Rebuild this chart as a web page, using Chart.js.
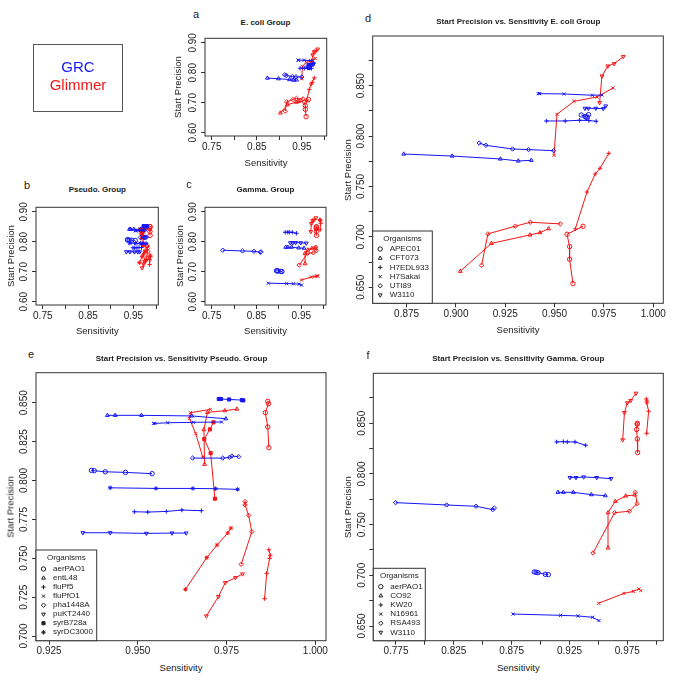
<!DOCTYPE html>
<html>
<head>
<meta charset="utf-8">
<script src="https://cdn.jsdelivr.net/npm/chart.js@4.4.1/dist/chart.umd.min.js"></script>
<style>
  body { margin: 0; background: #fff; width: 685px; height: 685px; position: relative; overflow: hidden;
         font-family: 'Liberation Sans', Arial, sans-serif; color: #222; }
  canvas { position: absolute; }
  .t { position: absolute; white-space: nowrap; transform: translate(-50%, -50%); font-size: 9.5px; }
  .r { transform: translate(-50%, -50%) rotate(-90deg); }
  .main { font-weight: bold; font-size: 8px; }
  .let { font-size: 11px; }
  #keybox { position: absolute; left: 33px; top: 44px; width: 88px; height: 66px; border: 1px solid #555; }
</style>
</head>
<body>
<div id="keybox"></div>
<canvas id="ca"></canvas>
<canvas id="cb"></canvas>
<canvas id="cc"></canvas>
<canvas id="cd"></canvas>
<canvas id="ce"></canvas>
<canvas id="cf"></canvas>
<script>
'use strict';

// ---- E. coli group ----
const ecoliNames = ['APEC01', 'CFT073', 'H7EDL933', 'H7Sakai', 'UTI89', 'W3110'];
const ecoliGrcSens = [
  [0.9635, 0.9655, 0.9660, 0.9666, 0.9672],
  [0.8735, 0.8981, 0.9225, 0.9316, 0.9382],
  [0.9458, 0.9554, 0.9627, 0.9674, 0.9711],
  [0.9417, 0.9424, 0.9547, 0.9691, 0.9740],
  [0.9118, 0.9152, 0.9287, 0.9368, 0.9495],
  [0.9654, 0.9671, 0.9709, 0.9747, 0.9759]
];
const ecoliGrcPrec = [
  [0.8209, 0.8193, 0.8187, 0.8187, 0.8213],
  [0.7822, 0.7802, 0.7773, 0.7753, 0.7760],
  [0.8150, 0.8150, 0.8157, 0.8154, 0.8147],
  [0.8421, 0.8421, 0.8418, 0.8405, 0.8408],
  [0.7931, 0.7908, 0.7872, 0.7866, 0.7855],
  [0.8275, 0.8275, 0.8275, 0.8272, 0.8298]
];
const ecoliGlimSens = [
  [0.9644, 0.9563, 0.9576, 0.9576, 0.9593],
  [0.9022, 0.9180, 0.9375, 0.9426, 0.9470],
  [0.9605, 0.9664, 0.9706, 0.9730, 0.9775],
  [0.9497, 0.9512, 0.9598, 0.9715, 0.9796],
  [0.9130, 0.9162, 0.9301, 0.9377, 0.9529],
  [0.9728, 0.9740, 0.9770, 0.9802, 0.9848]
];
const ecoliGlimPrec = [
  [0.7105, 0.7026, 0.6904, 0.6778, 0.6536],
  [0.6659, 0.6936, 0.7019, 0.7042, 0.7081],
  [0.7079, 0.7445, 0.7624, 0.7680, 0.7829],
  [0.7809, 0.8216, 0.8345, 0.8388, 0.8477],
  [0.6719, 0.7030, 0.7106, 0.7145, 0.7129],
  [0.8331, 0.8596, 0.8695, 0.8718, 0.8788]
];

// ---- Pseudo. group ----
const pseudoNames = ['aerPAO1', 'entL48', 'fluPf5', 'fluPfO1', 'pha1448A', 'puKT2440', 'syrB728a', 'syrDC3000'];
const pseudoGrcSens = [
  [0.9369, 0.9377, 0.9408, 0.9465, 0.9540],
  [0.9414, 0.9436, 0.9510, 0.9652, 0.9748],
  [0.9490, 0.9528, 0.9580, 0.9624, 0.9679],
  [0.9544, 0.9548, 0.9584, 0.9656, 0.9736],
  [0.9654, 0.9739, 0.9758, 0.9765, 0.9784],
  [0.9345, 0.9422, 0.9524, 0.9596, 0.9636],
  [0.9728, 0.9734, 0.9757, 0.9793, 0.9797],
  [0.9422, 0.9551, 0.9655, 0.9719, 0.9781]
];
const pseudoGrcPrec = [
  [0.8065, 0.8063, 0.8056, 0.8052, 0.8044],
  [0.8419, 0.8419, 0.8419, 0.8415, 0.8397],
  [0.7799, 0.7797, 0.7801, 0.7810, 0.7806],
  [0.8367, 0.8367, 0.8371, 0.8374, 0.8376],
  [0.8144, 0.8144, 0.8148, 0.8157, 0.8153],
  [0.7664, 0.7664, 0.7660, 0.7662, 0.7662],
  [0.8524, 0.8524, 0.8521, 0.8517, 0.8515],
  [0.7953, 0.7949, 0.7949, 0.7947, 0.7943]
];
const pseudoGlimSens = [
  [0.9866, 0.9868, 0.9859, 0.9866, 0.9869],
  [0.9779, 0.9745, 0.9696, 0.9686, 0.9688],
  [0.9869, 0.9873, 0.9871, 0.9863, 0.9857],
  [0.9683, 0.9663, 0.9645, 0.9648, 0.9704],
  [0.9802, 0.9802, 0.9812, 0.9821, 0.9791],
  [0.9693, 0.9727, 0.9746, 0.9775, 0.9795],
  [0.9713, 0.9703, 0.9687, 0.9705, 0.9717],
  [0.9634, 0.9694, 0.9723, 0.9753, 0.9762]
];
const pseudoGlimPrec = [
  [0.8509, 0.8494, 0.8436, 0.8344, 0.8211],
  [0.8459, 0.8449, 0.8438, 0.8327, 0.8104],
  [0.7555, 0.7519, 0.7499, 0.7403, 0.7240],
  [0.8149, 0.8301, 0.8399, 0.8436, 0.8457],
  [0.7864, 0.7843, 0.7776, 0.7671, 0.7461],
  [0.7129, 0.7253, 0.7343, 0.7375, 0.7399],
  [0.8374, 0.8329, 0.8266, 0.8176, 0.7883],
  [0.7300, 0.7504, 0.7585, 0.7662, 0.7694]
];

// ---- Gamma. group ----
const gammaNames = ['aerPAO1', 'CO92', 'KW20', 'N16961', 'RSA493', 'W3110'];
const gammaGrcSens = [
  [0.8946, 0.8961, 0.8978, 0.9041, 0.9067],
  [0.9150, 0.9197, 0.9283, 0.9439, 0.9560],
  [0.9139, 0.9197, 0.9231, 0.9298, 0.9390],
  [0.8762, 0.9174, 0.9323, 0.9450, 0.9505],
  [0.7747, 0.8188, 0.8442, 0.8586, 0.8600],
  [0.9254, 0.9306, 0.9372, 0.9485, 0.9609]
];
const gammaGrcPrec = [
  [0.7033, 0.7030, 0.7026, 0.7010, 0.7007],
  [0.7819, 0.7819, 0.7819, 0.7796, 0.7786],
  [0.8316, 0.8319, 0.8316, 0.8316, 0.8283],
  [0.6618, 0.6605, 0.6599, 0.6586, 0.6553],
  [0.7717, 0.7694, 0.7681, 0.7648, 0.7664],
  [0.7964, 0.7964, 0.7970, 0.7964, 0.7954]
];
const gammaGlimSens = [
  [0.9836, 0.9836, 0.9830, 0.9836, 0.9839],
  [0.9583, 0.9583, 0.9646, 0.9736, 0.9813],
  [0.9917, 0.9934, 0.9919, 0.9919, 0.9914],
  [0.9502, 0.9721, 0.9802, 0.9851, 0.9866],
  [0.9453, 0.9640, 0.9767, 0.9834, 0.9819],
  [0.9710, 0.9725, 0.9750, 0.9779, 0.9825]
];
const gammaGlimPrec = [
  [0.8500, 0.8490, 0.8438, 0.8345, 0.8211],
  [0.7270, 0.7618, 0.7730, 0.7783, 0.7793],
  [0.8401, 0.8618, 0.8701, 0.8720, 0.8740],
  [0.6724, 0.6822, 0.6842, 0.6865, 0.6849],
  [0.7220, 0.7618, 0.7632, 0.7707, 0.7819],
  [0.8336, 0.8605, 0.8701, 0.8724, 0.8796]
];

// ---- ticks ----
const smallXTicks = [0.75, 0.80, 0.85, 0.90, 0.95, 1.00];
const smallXLabels = ['0.75', '0.85', '0.95'];
const smallYTicks = [0.60, 0.70, 0.80, 0.90];
const smallYLabels = ['0.60', '0.70', '0.80', '0.90'];
const ecoliXTicks = [0.875, 0.900, 0.925, 0.950, 0.975, 1.000];
const ecoliXLabels = ['0.875', '0.900', '0.925', '0.950', '0.975', '1.000'];
const ecoliYTicks = [0.650, 0.675, 0.700, 0.725, 0.750, 0.775, 0.800, 0.825, 0.850, 0.875];
const ecoliYLabels = ['0.650', '0.700', '0.750', '0.800', '0.850'];
const pseudoXTicks = [0.925, 0.950, 0.975, 1.000];
const pseudoXLabels = ['0.925', '0.950', '0.975', '1.000'];
const pseudoYTicks = [0.700, 0.725, 0.750, 0.775, 0.800, 0.825, 0.850];
const pseudoYLabels = ['0.700', '0.725', '0.750', '0.775', '0.800', '0.825', '0.850'];
const gammaXTicks = [0.775, 0.800, 0.825, 0.850, 0.875, 0.900, 0.925, 0.950, 0.975, 1.000];
const gammaXLabels = ['0.775', '0.825', '0.875', '0.925', '0.975'];
const gammaYTicks = [0.650, 0.675, 0.700, 0.725, 0.750, 0.775, 0.800, 0.825, 0.850, 0.875];
const gammaYLabels = ['0.650', '0.700', '0.750', '0.800', '0.850'];

// R pch symbols per organism
const ecoliPch = ['circle', 'triangle', 'cross', 'crossRot', 'rectRot', 'down'];
const pseudoPch = ['circle', 'triangle', 'cross', 'crossRot', 'rectRot', 'down', 'square', 'star'];
const gammaPch = ['circle', 'triangle', 'cross', 'crossRot', 'rectRot', 'down'];

const BLUE = '#1515f5';
const RED = '#f51515';
const FONT = "'Liberation Sans', Arial, sans-serif";
Chart.defaults.font.family = FONT;
Chart.defaults.color = '#222';

function pointOpts(pch, color) {
  if (pch === 'down') return { pointStyle: 'triangle', pointRotation: 180, pointBackgroundColor: 'rgba(0,0,0,0)' };
  if (pch === 'square') return { pointStyle: 'rect', pointRotation: 0, pointBackgroundColor: color };
  return { pointStyle: pch, pointRotation: 0, pointBackgroundColor: 'rgba(0,0,0,0)' };
}

function buildSets(names, pch, sx, sy, color) {
  return names.map((n, i) => Object.assign({
    label: n,
    data: sx[i].map((v, j) => ({ x: v, y: sy[i][j] })),
    showLine: true,
    borderColor: color,
    borderWidth: 1,
    pointBorderColor: color,
    pointBorderWidth: 1,
    pointRadius: 2.2,
    tension: 0
  }, pointOpts(pch[i], color)));
}

const rBox = {
  id: 'rBox',
  afterDatasetsDraw(chart, args, opts) {
    const ctx = chart.ctx;
    const a = chart.chartArea;
    ctx.save();
    ctx.strokeStyle = '#333';
    ctx.lineWidth = 1;
    ctx.strokeRect(a.left, a.top, a.right - a.left, a.bottom - a.top);
    const L = opts.legend;
    if (L) {
      const top = a.bottom - L.h;
      ctx.fillStyle = '#fff';
      ctx.fillRect(a.left, top, L.w, L.h);
      ctx.strokeRect(a.left, top, L.w, L.h);
      ctx.fillStyle = '#222';
      ctx.font = '8px ' + FONT;
      ctx.textBaseline = 'middle';
      ctx.textAlign = 'center';
      ctx.fillText('Organisms', a.left + L.w / 2, top + L.titleY);
      ctx.textAlign = 'left';
      L.names.forEach((n, i) => {
        const y = top + L.rowY + i * L.rowH;
        const p = pointOpts(L.pch[i], '#222');
        ctx.fillStyle = p.pointBackgroundColor;
        ctx.strokeStyle = '#222';
        Chart.helpers.drawPoint(ctx, { pointStyle: p.pointStyle, rotation: p.pointRotation, radius: 2.2, borderWidth: 1 }, a.left + 7.5, y);
        ctx.fillStyle = '#222';
        ctx.fillText(n, a.left + 17, y);
      });
    }
    ctx.restore();
  }
};

function measure(labels, size) {
  const c = document.createElement('canvas').getContext('2d');
  c.font = size + 'px ' + FONT;
  return Math.max(...labels.map(s => c.measureText(s).width));
}

// cb = canvas [left, top, w, h]; pa = plot area [left, top, right, bottom] in page px
function makeChart(id, cb, pa, xr, yr, xt, xl, yt, yl, datasets, legend) {
  const cv = document.getElementById(id);
  cv.style.left = cb[0] + 'px';
  cv.style.top = cb[1] + 'px';
  cv.width = cb[2];
  cv.height = cb[3];
  const yW = pa[0] - cb[0];
  const xH = cb[1] + cb[3] - pa[3];
  const tl = 4;
  const yPad = 11.5 - tl - measure(yl, 10) / 2;
  const grid = { display: true, drawOnChartArea: false, drawTicks: true, tickLength: tl, color: '#333', lineWidth: 1 };
  const fmt = (labels, dec) => v => { const s = Number(v).toFixed(dec); return labels.includes(s) ? s : ''; };
  const xDec = xl[0].split('.')[1].length;
  const yDec = yl[0].split('.')[1].length;
  return new Chart(cv, {
    type: 'scatter',
    data: { datasets: datasets },
    options: {
      responsive: false,
      animation: false,
      layout: { padding: { left: 0, bottom: 0, top: pa[1] - cb[1], right: cb[0] + cb[2] - pa[2] } },
      plugins: { legend: { display: false }, tooltip: { enabled: false }, rBox: { legend: legend } },
      scales: {
        x: {
          type: 'linear', min: xr[0], max: xr[1],
          afterBuildTicks: s => { s.ticks = xt.map(v => ({ value: v })); },
          afterFit: s => { s.height = xH; },
          grid: grid, border: { display: false },
          ticks: { autoSkip: false, maxRotation: 0, padding: 1, font: { size: 10 }, color: '#222', callback: fmt(xl, xDec) }
        },
        y: {
          type: 'linear', min: yr[0], max: yr[1],
          afterBuildTicks: s => { s.ticks = yt.map(v => ({ value: v })); },
          afterFit: s => { s.width = yW; },
          grid: grid, border: { display: false },
          ticks: { autoSkip: false, minRotation: 90, maxRotation: 90, crossAlign: 'center', padding: yPad,
                   font: { size: 10 }, color: '#222', callback: fmt(yl, yDec) }
        }
      }
    },
    plugins: [rBox]
  });
}

function sets(names, pch, gx, gy, mx, my) {
  return buildSets(names, pch, gx, gy, BLUE).concat(buildSets(names, pch, mx, my, RED));
}

const smallX = [0.735, 1.005];
const smallY = [0.589, 0.915];

makeChart('ca', [165, 30, 175, 130], [205, 38.3, 326.7, 136], smallX, smallY,
  smallXTicks, smallXLabels, smallYTicks, smallYLabels,
  sets(ecoliNames, ecoliPch, ecoliGrcSens, ecoliGrcPrec, ecoliGlimSens, ecoliGlimPrec), null);
makeChart('cb', [0, 195, 170, 130], [36, 207.3, 158.3, 305], smallX, smallY,
  smallXTicks, smallXLabels, smallYTicks, smallYLabels,
  sets(pseudoNames, pseudoPch, pseudoGrcSens, pseudoGrcPrec, pseudoGlimSens, pseudoGlimPrec), null);
makeChart('cc', [165, 195, 175, 130], [205, 207.3, 326, 305], smallX, smallY,
  smallXTicks, smallXLabels, smallYTicks, smallYLabels,
  sets(gammaNames, gammaPch, gammaGrcSens, gammaGrcPrec, gammaGlimSens, gammaGlimPrec), null);
makeChart('cd', [340, 25, 345, 300], [372.7, 36, 663.3, 303.3], [0.8578, 1.0051], [0.6341, 0.8993],
  ecoliXTicks, ecoliXLabels, ecoliYTicks, ecoliYLabels,
  sets(ecoliNames, ecoliPch, ecoliGrcSens, ecoliGrcPrec, ecoliGlimSens, ecoliGlimPrec),
  { names: ecoliNames, pch: ecoliPch, w: 59.6, h: 72.3, titleY: 7.7, rowY: 18, rowH: 9.2 });
makeChart('ce', [0, 360, 340, 300], [36, 372.7, 326, 640.7], [0.9213, 1.0030], [0.697, 0.8693],
  pseudoXTicks, pseudoXLabels, pseudoYTicks, pseudoYLabels,
  sets(pseudoNames, pseudoPch, pseudoGrcSens, pseudoGrcPrec, pseudoGlimSens, pseudoGlimPrec),
  { names: pseudoNames, pch: pseudoPch, w: 60.7, h: 90.7, titleY: 7.3, rowY: 19, rowH: 9.04 });
makeChart('cf', [340, 360, 345, 300], [373.3, 373.3, 663.3, 640.7], [0.7554, 1.0061], [0.6355, 0.8993],
  gammaXTicks, gammaXLabels, gammaYTicks, gammaYLabels,
  sets(gammaNames, gammaPch, gammaGrcSens, gammaGrcPrec, gammaGlimSens, gammaGlimPrec),
  { names: gammaNames, pch: gammaPch, w: 52, h: 72.4, titleY: 7.4, rowY: 18.4, rowH: 9.13 });

// titles, panel letters, axis titles
const texts = [
  ['a', 196, 14, 'let'], ['b', 27, 185, 'let'], ['c', 189, 184, 'let'],
  ['d', 368, 18, 'let'], ['e', 31, 354, 'let'], ['f', 368, 355, 'let'],
  ['E. coli Group', 265.5, 21.7, 'main'], ['Pseudo. Group', 97.3, 189.3, 'main'], ['Gamma. Group', 265.5, 189.3, 'main'],
  ['Start Precision vs. Sensitivity E. coli Group', 518.3, 21, 'main'],
  ['Start Precision vs. Sensitivity Pseudo. Group', 181.5, 358.3, 'main'],
  ['Start Precision vs. Sensitivity Gamma. Group', 518.3, 358.3, 'main'],
  ['Sensitivity', 266, 161.7, ''], ['Sensitivity', 97.3, 330, ''], ['Sensitivity', 265.5, 330, ''],
  ['Sensitivity', 518, 329, ''], ['Sensitivity', 181, 666.7, ''], ['Sensitivity', 518.3, 666.7, ''],
  ['Start Precision', 177, 87.2, 'r'], ['Start Precision', 10, 256, 'r'], ['Start Precision', 179, 256, 'r'],
  ['Start Precision', 346.7, 169.7, 'r'], ['Start Precision', 10, 506.7, 'r'], ['Start Precision', 347.3, 507, 'r']
];
texts.forEach(t => {
  const d = document.createElement('div');
  d.className = 't ' + t[3];
  d.textContent = t[0];
  d.style.left = t[1] + 'px';
  d.style.top = t[2] + 'px';
  document.body.appendChild(d);
});

const keyTexts = [['GRC', BLUE, 66], ['Glimmer', RED, 84]];
keyTexts.forEach(k => {
  const d = document.createElement('div');
  d.className = 't';
  d.style.fontSize = '15px';
  d.style.color = k[1];
  d.textContent = k[0];
  d.style.left = '78px';
  d.style.top = k[2] + 'px';
  document.body.appendChild(d);
});
</script>
</body>
</html>
